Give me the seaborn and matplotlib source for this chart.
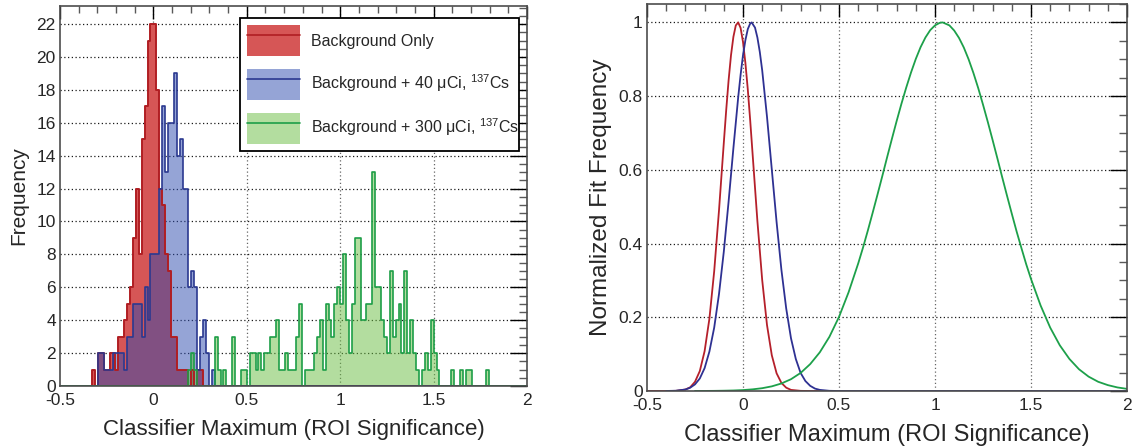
import numpy as np
import pandas as pd
import matplotlib
matplotlib.use("Agg")
import matplotlib.pyplot as plt
from matplotlib.patches import Patch
from matplotlib.lines import Line2D
from matplotlib.legend_handler import HandlerTuple
from matplotlib.ticker import MultipleLocator, FuncFormatter
import seaborn as sns

# ---------------- data ----------------
# histogram binning (160 bins from -0.5 to 2.0)
hist_lo, hist_hi, hist_nbins = -0.5, 2.0, 160

# counts per bin, starting at the given left bin edge
red_start = -0.328125
red_counts = [1, 0, 2, 2, 1, 1, 2, 2, 1, 3, 3, 4, 5, 6, 9, 12, 8, 15, 17, 21, 22,
              22, 18, 12, 11, 8, 7, 3, 3, 1, 1, 1, 1, 0, 1, 0, 1, 1]

blue_start = -0.296875
blue_counts = [2, 2, 1, 1, 1, 2, 2, 2, 2, 1, 3, 3, 5, 5, 5, 3, 6, 4, 8,
               8, 8, 12, 17, 13, 16, 16, 19, 14, 15, 12, 12, 6, 7, 6, 1, 3, 4, 2, 0, 1]

green_start = 0.1875
green_counts = [1, 2, 1, 0, 0, 0, 0, 0, 0, 3, 1, 0, 1, 0, 0, 3, 0, 0, 1, 1,
                0, 2, 2, 1, 2, 1, 2, 2, 3, 3, 4, 1, 1, 2, 1, 1, 1, 3, 5, 0,
                1, 1, 1, 2, 3, 4, 1, 5, 4, 3, 5, 6, 5, 8, 4, 2, 5, 9, 9, 4,
                4, 5, 5, 13, 6, 6, 4, 3, 2, 7, 3, 4, 5, 2, 7, 2, 4, 2, 1, 0,
                1, 2, 1, 4, 2, 1, 0, 0, 0, 0, 1, 0, 0, 1, 0, 1, 1, 0, 0, 0,
                0, 0, 1]

legend_labels = ["Background Only",
                 "Background + 40 μCi, $^{137}$Cs",
                 "Background + 300 μCi, $^{137}$Cs"]

# normalized fit curves
red_fit_x = [-0.5, -0.4, -0.35, -0.3, -0.275, -0.25, -0.225, -0.2, -0.175, -0.15,
             -0.125, -0.1, -0.0875, -0.075, -0.0625, -0.05, -0.0375, -0.025, -0.0125, 0.0,
             0.0125, 0.025, 0.0375, 0.05, 0.075, 0.1, 0.125, 0.15, 0.175, 0.2,
             0.225, 0.25, 0.3, 0.35, 0.4]
red_fit_y = [0.0, 0.0, 0.0004, 0.004, 0.010, 0.025, 0.054, 0.108, 0.196, 0.325,
             0.490, 0.673, 0.762, 0.843, 0.911, 0.961, 0.992, 1.0, 0.985, 0.947,
             0.890, 0.818, 0.734, 0.643, 0.461, 0.301, 0.179, 0.097, 0.048, 0.022,
             0.009, 0.003, 0.0004, 0.0, 0.0]

blue_fit_x = [-0.4, -0.35, -0.3, -0.275, -0.25, -0.225, -0.2, -0.175, -0.15, -0.125,
              -0.1, -0.075, -0.05, -0.025, -0.0125, 0.0, 0.0125, 0.025, 0.0375, 0.045,
              0.0625, 0.075, 0.0875, 0.1, 0.125, 0.15, 0.175, 0.2, 0.225, 0.25,
              0.275, 0.3, 0.325, 0.35, 0.375, 0.4, 0.45, 0.5, 1.0, 1.5, 2.0]
blue_fit_y = [0.0001, 0.0007, 0.004, 0.009, 0.018, 0.034, 0.062, 0.107, 0.172, 0.263,
              0.378, 0.514, 0.659, 0.797, 0.858, 0.911, 0.952, 0.982, 0.997, 1.0,
              0.986, 0.959, 0.920, 0.870, 0.744, 0.601, 0.458, 0.329, 0.224, 0.143,
              0.087, 0.049, 0.027, 0.014, 0.0065, 0.003, 0.0005, 0.0, 0.0, 0.0, 0.0]

green_fit_x = [-0.25, -0.2, -0.15, -0.1, -0.05, 0.0, 0.05, 0.1, 0.15, 0.2,
               0.25, 0.3, 0.35, 0.4, 0.45, 0.5, 0.55, 0.6, 0.625, 0.65,
               0.675, 0.7, 0.725, 0.75, 0.775, 0.8, 0.825, 0.85, 0.875, 0.9,
               0.925, 0.95, 0.975, 1.0, 1.025, 1.04, 1.075, 1.1, 1.125, 1.15,
               1.175, 1.2, 1.225, 1.25, 1.275, 1.3, 1.325, 1.35, 1.375, 1.4,
               1.425, 1.45, 1.475, 1.5, 1.55, 1.6, 1.65, 1.7, 1.75, 1.8,
               1.85, 1.9, 1.95, 2.0]
green_fit_y = [0.0001, 0.0002, 0.0004, 0.0008, 0.0014, 0.0025, 0.0045, 0.0076, 0.0126, 0.0204,
               0.032, 0.049, 0.073, 0.105, 0.147, 0.201, 0.268, 0.346, 0.389, 0.435,
               0.483, 0.532, 0.582, 0.633, 0.683, 0.732, 0.779, 0.823, 0.864, 0.901,
               0.933, 0.959, 0.979, 0.992, 0.999, 1.0, 0.992, 0.978, 0.958, 0.932,
               0.900, 0.863, 0.822, 0.777, 0.730, 0.681, 0.631, 0.580, 0.530, 0.481,
               0.433, 0.388, 0.344, 0.304, 0.232, 0.172, 0.124, 0.087, 0.059, 0.039,
               0.025, 0.016, 0.0097, 0.0058]

# ---------------- style ----------------
sns.set_style("white")
plt.rcParams["font.family"] = ["Liberation Sans", "DejaVu Sans"]
plt.rcParams["mathtext.default"] = "regular"
plt.rcParams["mathtext.fontset"] = "custom"
plt.rcParams["mathtext.rm"] = "Liberation Sans"

RED_FILL, RED_EDGE = "#D65656", "#B01E23"
BLUE_FILL, BLUE_EDGE = "#2D4BAF", "#2B3990"
GREEN_FILL, GREEN_EDGE = "#69BD41", "#1E9E48"

fig = plt.figure(figsize=(11.35, 4.48), dpi=100)
ax1 = fig.add_axes([60 / 1135, 1 - 386 / 448, 467 / 1135, 380 / 448])
ax2 = fig.add_axes([647 / 1135, 1 - 391 / 448, 480 / 1135, 387 / 448])

edges = np.linspace(hist_lo, hist_hi, hist_nbins + 1)
width = edges[1] - edges[0]
centers = edges[:-1] + width / 2


def full_counts(start, counts):
    arr = np.zeros(hist_nbins)
    k = int(round((start - hist_lo) / width))
    arr[k:k + len(counts)] = counts
    return arr


series = [
    (red_start, red_counts, RED_FILL, 1.0, RED_EDGE, 1.4),
    (blue_start, blue_counts, BLUE_FILL, 0.5, BLUE_EDGE, 1.2),
    (green_start, green_counts, GREEN_FILL, 0.5, GREEN_EDGE, 1.2),
]
for start, counts, fc, a, ec, lw in series:
    df = pd.DataFrame({"x": centers, "w": full_counts(start, counts)})
    sns.histplot(data=df, x="x", weights="w", bins=list(edges), element="step", fill=True,
                 color=fc, alpha=a, linewidth=0, ax=ax1)
    sns.histplot(data=df, x="x", weights="w", bins=list(edges), element="step", fill=False,
                 color=ec, linewidth=lw, ax=ax1)

for fx, fy, c in [(red_fit_x, red_fit_y, "#B5202B"),
                  (blue_fit_x, blue_fit_y, "#2E3192"),
                  (green_fit_x, green_fit_y, "#1DA04A")]:
    sns.lineplot(x=fx, y=fy, color=c, linewidth=1.3, ax=ax2)

fmt = FuncFormatter(lambda v, p: "%g" % round(v, 6))


def style_axes(ax, xlim, ylim, ymaj, ymin, grid_y):
    ax.set_xlim(*xlim)
    ax.set_ylim(*ylim)
    ax.xaxis.set_major_locator(MultipleLocator(0.5))
    ax.xaxis.set_minor_locator(MultipleLocator(0.1))
    ax.yaxis.set_major_locator(MultipleLocator(ymaj))
    ax.yaxis.set_minor_locator(MultipleLocator(ymin))
    ax.xaxis.set_major_formatter(fmt)
    ax.yaxis.set_major_formatter(fmt)
    ax.tick_params(which="both", direction="in", top=True, right=True,
                   labelsize=12.5)
    ax.tick_params(axis="x", which="major", length=9, width=1, color="black", pad=5)
    ax.tick_params(axis="x", which="minor", length=5, width=1, color="0.35")
    ax.tick_params(axis="y", which="major", length=12, width=1, color="black", pad=3)
    ax.tick_params(axis="y", which="minor", length=6, width=1, color="0.35")
    for s in ax.spines.values():
        s.set_color("0.3")
        s.set_linewidth(1.2)
    for gx in np.arange(xlim[0] + 0.5, xlim[1], 0.5):
        ax.axvline(gx, color="0.4", linestyle=(0, (1, 2)), linewidth=0.9, zorder=0)
    for gy in grid_y:
        ax.axhline(gy, color="0.1", linestyle=(0, (1, 2)), linewidth=0.9, zorder=0)


style_axes(ax1, (-0.5, 2.0), (0, 23.1), 2, 0.5, np.arange(2, 23, 2))
style_axes(ax2, (-0.5, 2.0), (0, 1.05), 0.2, 0.05, np.arange(0.2, 1.01, 0.2))

ax1.set_xlabel("Classifier Maximum (ROI Significance)", fontsize=16, labelpad=8)
ax1.set_ylabel("Frequency", fontsize=15, labelpad=6)
ax2.set_xlabel("Classifier Maximum (ROI Significance)", fontsize=17, labelpad=8)
ax2.set_ylabel("Normalized Fit Frequency", fontsize=17.5, labelpad=5)

handles = [
    (Patch(facecolor=RED_FILL, alpha=1.0, edgecolor="none"), Line2D([], [], color=RED_EDGE, lw=1.2)),
    (Patch(facecolor=BLUE_FILL, alpha=0.5, edgecolor="none"), Line2D([], [], color=BLUE_EDGE, lw=1.2)),
    (Patch(facecolor=GREEN_FILL, alpha=0.5, edgecolor="none"), Line2D([], [], color=GREEN_EDGE, lw=1.2)),
]
leg = ax1.legend(handles, legend_labels, handler_map={tuple: HandlerTuple(ndivide=1)},
                 loc="upper left", bbox_to_anchor=(0.385, 0.629, 0.598, 0.339),
                 mode="expand", fontsize=11.5, frameon=True, fancybox=False,
                 framealpha=1, edgecolor="black", borderpad=0.45,
                 handlelength=3.3, handleheight=2.6, handletextpad=0.7,
                 labelspacing=0.8, borderaxespad=0)
leg.get_frame().set_linewidth(1.3)

fig.savefig("out.png", dpi=100)
